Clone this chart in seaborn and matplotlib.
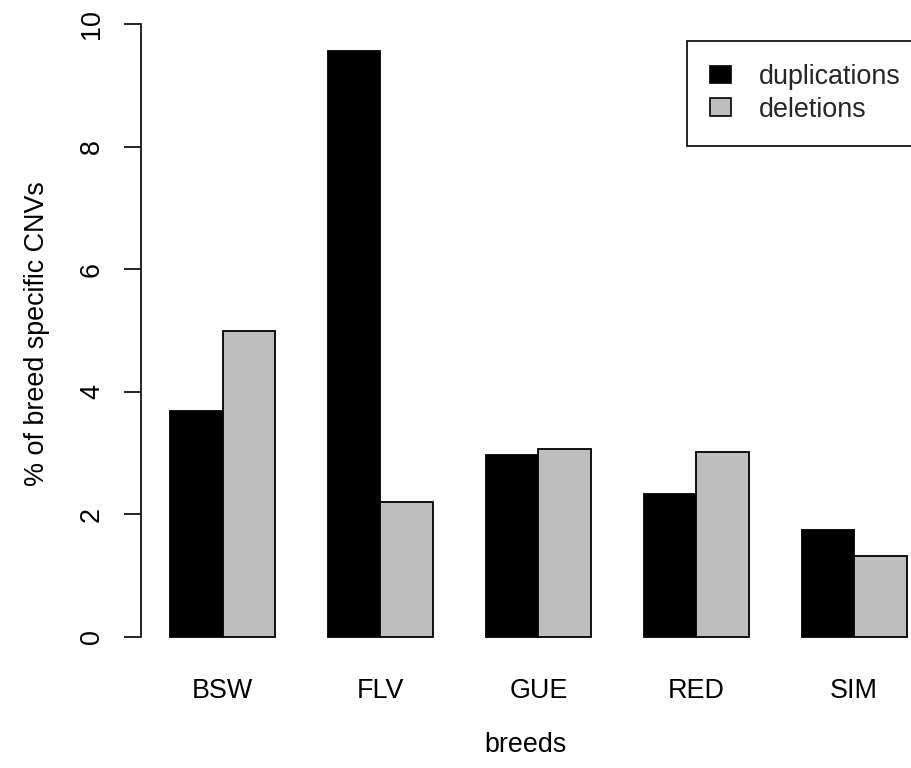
import matplotlib
matplotlib.use("Agg")
import matplotlib.pyplot as plt
import seaborn as sns
import pandas as pd

# values
breeds = ["BSW", "FLV", "GUE", "RED", "SIM"]
duplications = [3.69, 9.57, 2.96, 2.33, 1.74]
deletions = [4.99, 2.20, 3.07, 3.01, 1.31]
series = ["duplications", "deletions"]
colors = {"duplications": "#000000", "deletions": "#BEBEBE"}

df = pd.DataFrame({
    "breed": breeds * 2,
    "pct": duplications + deletions,
    "type": [series[0]] * len(breeds) + [series[1]] * len(breeds),
})

sns.set_style("white")
plt.rcParams["font.family"] = ["Liberation Sans", "DejaVu Sans"]
FS = 19.4

fig = plt.figure(figsize=(9.11, 7.68), dpi=100)
ax = fig.add_axes([140.5 / 911, (768 - 661.2) / 768, (911 - 140.5) / 911, 655.2 / 768])

sns.barplot(data=df, x="breed", y="pct", hue="type", order=breeds, hue_order=series,
            palette=colors, saturation=1, width=2 / 3, gap=0, edgecolor="black",
            linewidth=1.3, ax=ax, legend=False)

ax.set_xlim(-0.520, 4.360)
ax.set_ylim(-0.4, 10.3)

for s in ["top", "right", "bottom"]:
    ax.spines[s].set_visible(False)
ax.spines["left"].set_bounds(0, 10)
ax.spines["left"].set_linewidth(1.2)
ax.spines["left"].set_color("black")

ax.set_yticks([0, 2, 4, 6, 8, 10])
ax.set_yticklabels(["0", "2", "4", "6", "8", "10"], rotation=90, va="center")
ax.tick_params(axis="y", left=True, length=12.5, width=1.2, direction="out", pad=13,
               labelsize=FS, colors="black")
ax.tick_params(axis="x", bottom=False, length=0, pad=12, labelsize=FS, colors="black")

ax.set_xlabel("breeds", fontsize=FS, labelpad=20, color="black")
ax.set_ylabel("% of breed specific CNVs", fontsize=FS, labelpad=21, color="black")

handles = [plt.Rectangle((0, 0), 1, 1, facecolor=colors[s], edgecolor="black", linewidth=1.2)
           for s in series]
leg = ax.legend(handles, series, loc="upper left", bbox_to_anchor=(687 / 911, 1 - 41 / 768),
                bbox_transform=fig.transFigure, borderaxespad=0, fontsize=FS,
                frameon=True, fancybox=False, shadow=False, handlelength=0.8,
                handleheight=0.62, handletextpad=1.0, labelspacing=0.25,
                borderpad=0.85, framealpha=1)
leg.get_frame().set_edgecolor("black")
leg.get_frame().set_linewidth(1.2)

fig.savefig("out.png", dpi=100)
